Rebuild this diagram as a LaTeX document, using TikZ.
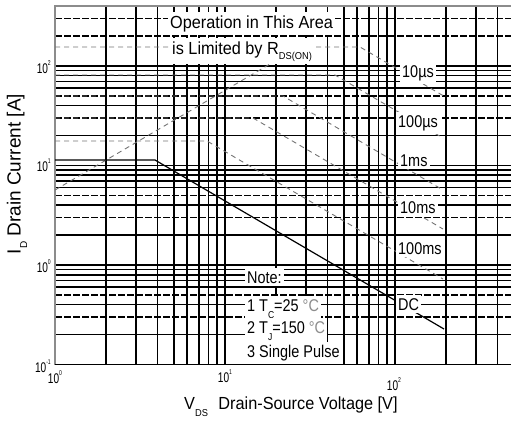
\documentclass[tikz,border=0pt]{standalone}
\usepackage{fontspec}
\setmainfont{Liberation Sans}
\newfontfamily\fa{Liberation Sans}[FakeStretch=0.93]
\newfontfamily\fb{Liberation Sans}[FakeStretch=0.85]
\newfontfamily\fc{Liberation Sans}[FakeStretch=0.72]
\newcommand{\tsup}[1]{\raisebox{0.6em}{\fontsize{7}{7}\selectfont #1}}
\newcommand{\tsub}[2]{\raisebox{#1}{\fontsize{10}{10}\selectfont #2}}
\begin{document}
\begin{tikzpicture}[x=1pt,y=-1pt,
  declare function={px(\v)=55+170*log10(\v); py(\i)=265-99.5*log10(\i);},
  gridln/.style={line width=1.7pt,black},
  griddash/.style={gridln,dash pattern=on 7pt off 2pt},
  frameln/.style={line width=1.5pt,black!45},
  pulse/.style={line width=0.9pt,black!55,dash pattern=on 5pt off 4pt},
  dcline/.style={line width=1.2pt,black},
  boxlab/.style={fill=white,inner xsep=2pt,inner ysep=3pt,anchor=base west,font=\fa\fontsize{17.5}{20}\selectfont},
  pulselab/.style={fill=white,inner xsep=2pt,inner ysep=3pt,anchor=base west,font=\fb\fontsize{17}{20}\selectfont},
  notelab/.style={fill=white,inner xsep=2pt,inner ysep=3pt,anchor=base west,font=\fb\fontsize{17}{20}\selectfont},
  ticklab/.style={inner sep=0pt,font=\fc\fontsize{14}{16}\selectfont},
  axtitle/.style={inner sep=0pt,font=\fa\fontsize{17.5}{20}\selectfont},
]
\useasboundingbox (0,0) rectangle (511,421);
% grid
\foreach \v in {2,3,4,5,6,7,8,9,10,20,30,40,50,60,70,80,90,100,200,300,400}
  \draw[gridln] ({px(\v)},6) -- ({px(\v)},364.5);
\foreach \v in {0.2,0.4,0.6,0.7,0.8,0.9,1,2,4,6,7,8,9,10,20,40,60,70,80,90,100}
  \draw[gridln] (55,{py(\v)}) -- (511,{py(\v)});
\foreach \v in {0.3,0.5,3,5,30,50,200,300}
  \draw[griddash] (55,{py(\v)}) -- (511,{py(\v)});
% frame
\draw[frameln] (511,6) -- (55,6) -- (55,364.5);
\draw[gridln] (55,364.5) -- (511,364.5);
% SOA curves
\draw[pulse] (55,190) -- (299,47);
\draw[pulse] (55,47) -- (360,47) -- (443,95.6);
\draw[pulse] (55,75) -- (335,75) -- (443,138);
\draw[pulse] (55,96) -- (283,96) -- (443,190);
\draw[pulse] (55,118) -- (253,118) -- (443,229);
\draw[pulse] (55,141) -- (207,141) -- (443,279);
\draw[dcline] (55,160) -- (155,160) -- (444,329);
% boxed texts
\node[boxlab] (op) at (168,28) {Operation in This Area};
\node[boxlab] (lim) at (170,54) {is Limited by R\tsub{-0.3em}{DS(ON)}};
\node[pulselab] (l10us) at (400,77) {10µs};
\node[pulselab] (l100us) at (396,127) {100µs};
\node[pulselab] (l1ms) at (398,166) {1ms};
\node[pulselab] (l10ms) at (398,213) {10ms};
\node[pulselab] (l100ms) at (396,254) {100ms};
\node[pulselab] (ldc) at (396,310) {DC};
\node[notelab] (n0) at (245,283) {Note:};
\node[notelab] (n1) at (245,311) {1 T\tsub{-0.45em}{C}=25 {\color{black!45}°C}};
\node[notelab] (n2) at (245,333) {2 T\tsub{-0.45em}{J}=150 {\color{black!45}°C}};
\node[notelab] (n3) at (245,357) {3 Single Pulse};
% ticks
\node[ticklab,anchor=east] (y2) at (51,67) {10\tsup{2}};
\node[ticklab,anchor=east] (y1) at (51,165) {10\tsup{1}};
\node[ticklab,anchor=east] (y0) at (51,266) {10\tsup{0}};
\node[ticklab,anchor=east] (ym1) at (51,366) {10\tsup{-1}};
\node[ticklab] (x0) at (55,377) {10\tsup{0}};
\node[ticklab] (x1) at (225,376) {10\tsup{1}};
\node[ticklab] (x2) at (394,384) {10\tsup{2}};
% axis titles
\node[axtitle,rotate=90,font=\fontsize{19}{21}\selectfont] (ytitle) at (17,174) {I\tsub{-0.35em}{D} Drain Current [A]};
\node[axtitle,anchor=base west] (xtitle) at (184,409) {V\tsub{-0.4em}{DS}\hspace{0.6em}Drain-Source Voltage [V]};
\end{tikzpicture}
\end{document}
